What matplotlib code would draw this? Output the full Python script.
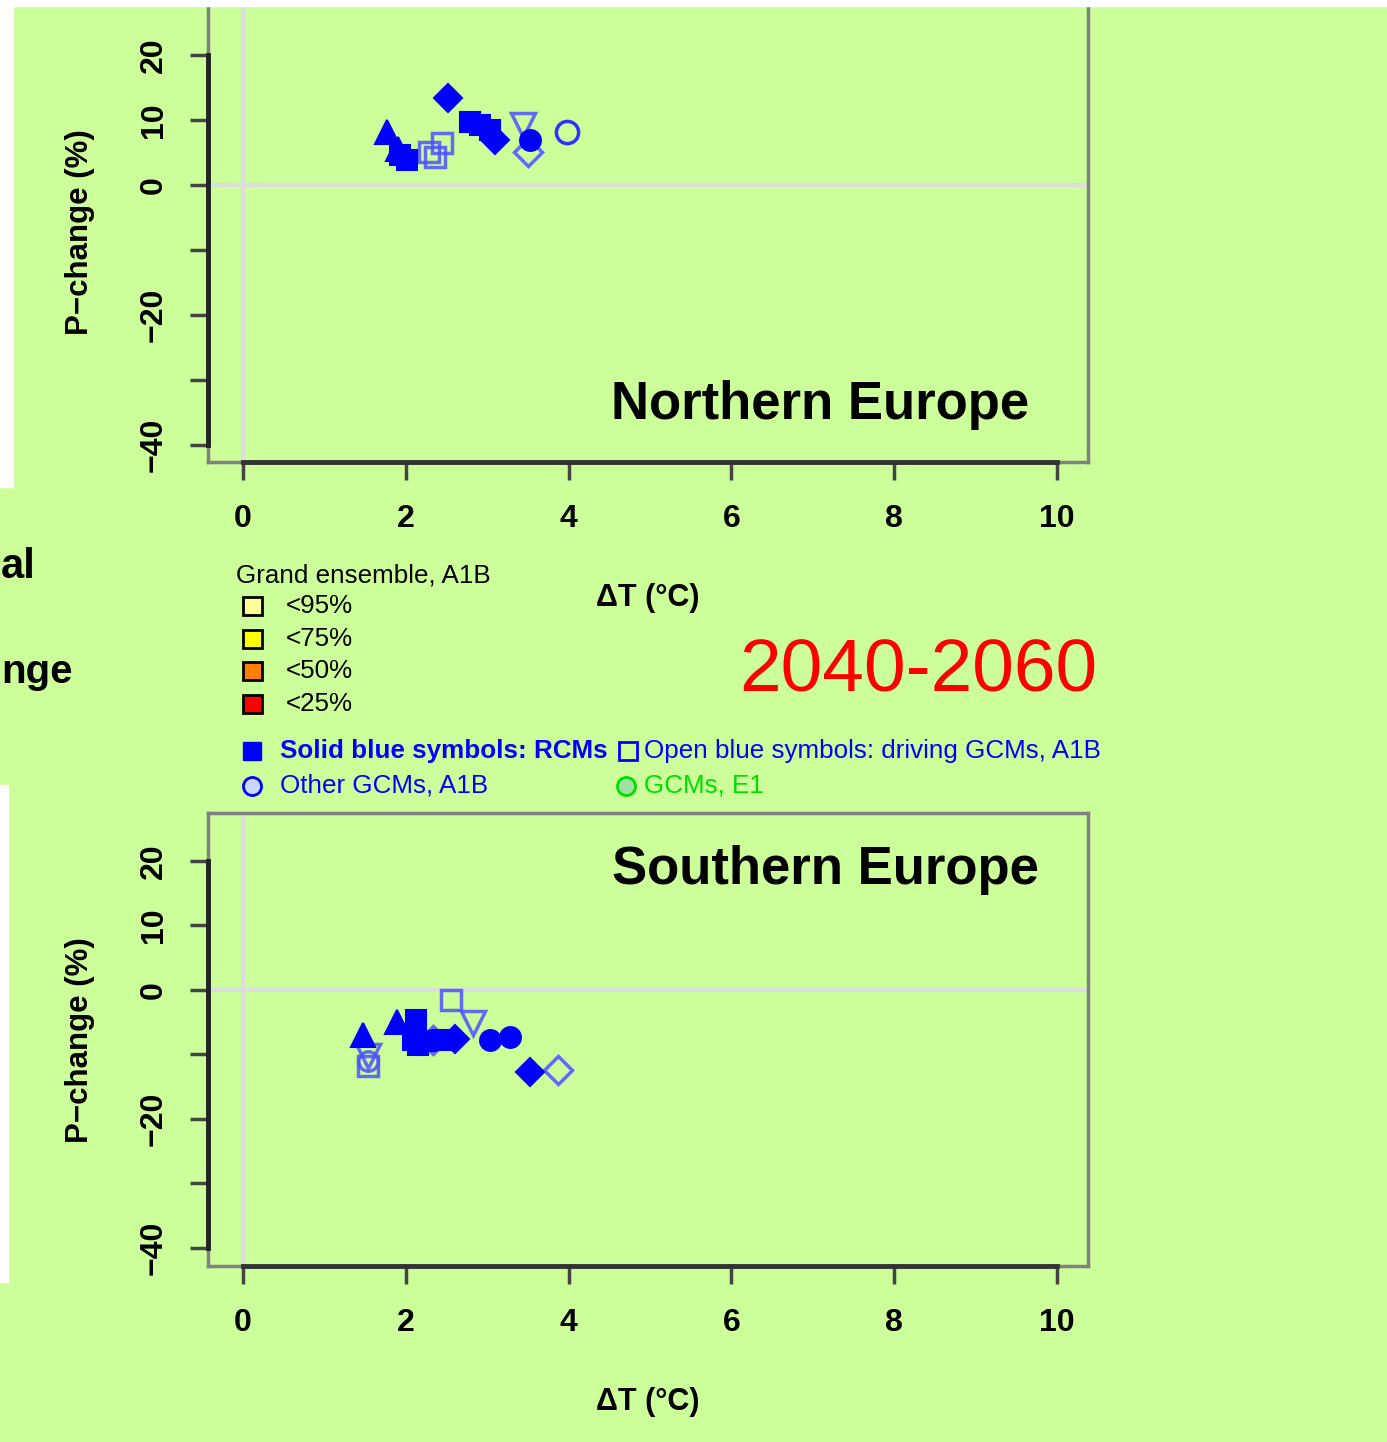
import matplotlib
matplotlib.use("Agg")
import matplotlib.pyplot as plt
from matplotlib.patches import Rectangle

plt.rcParams["font.family"] = ["Liberation Sans", "DejaVu Sans"]

W, H = 1387, 1442
BG = "#ccff99"

# x axis (delta T) and y axis (precipitation change) ticks
x_ticks = [0, 2, 4, 6, 8, 10]
y_ticks = [-40, -30, -20, -10, 0, 10, 20]
y_tick_labels = ["\u221240", "", "\u221220", "", "0", "10", "20"]

# Northern Europe: solid symbols = RCMs
north_rcm_dt = [2.52, 1.77, 1.90, 1.93, 2.02, 2.79, 2.91, 3.03, 3.09, 3.52]
north_rcm_dp = [13.4, 8.2, 5.6, 4.6, 3.8, 9.7, 9.2, 8.5, 6.9, 6.9]
north_rcm_mk = ["D", "^", "^", "s", "s", "s", "s", "s", "D", "o"]
# Northern Europe: open symbols = driving GCMs
north_gcm_dt = [2.29, 2.36, 2.45, 3.44, 3.50]
north_gcm_dp = [5.1, 4.3, 6.5, 9.2, 5.1]
north_gcm_mk = ["s", "s", "s", "v", "D"]
# Northern Europe: other GCMs
north_oth_dt = [3.98]
north_oth_dp = [8.2]

# Southern Europe: solid symbols = RCMs
south_rcm_dt = [1.47, 1.89, 2.13, 2.09, 2.15, 2.25, 2.45, 2.60, 3.03, 3.28, 3.52]
south_rcm_dp = [-7.0, -5.0, -4.7, -7.8, -8.5, -8.0, -7.8, -7.6, -7.8, -7.3, -12.7]
south_rcm_mk = ["^", "^", "s", "s", "s", "s", "s", "D", "o", "o", "D"]
# Southern Europe: open symbols = driving GCMs
south_gcm_dt = [1.53, 1.53, 2.56, 2.82, 2.33, 3.87]
south_gcm_dp = [-10.3, -11.8, -1.6, -5.2, -7.8, -12.4]
south_gcm_mk = ["v", "s", "s", "v", "D", "D"]
# Southern Europe: other GCMs
south_oth_dt = [1.53]
south_oth_dp = [-11.0]

legend_pct = ["<95%", "<75%", "<50%", "<25%"]
legend_pct_colors = ["#ffff99", "#ffff00", "#ff8000", "#ff0000"]

MSIZE = {"s": 15, "D": 14, "^": 17, "v": 17, "o": 15}
LEG_FS = 18.7


def fx(px):
  return px / W


def fy(py):
  return 1 - py / H


def draw_points(ax, xs, ys, marks, filled):
  for m in sorted(set(marks)):
    sx = [x for x, k in zip(xs, marks) if k == m]
    sy = [y for y, k in zip(ys, marks) if k == m]
    if filled:
      ax.plot(sx, sy, ls="none", marker=m, ms=MSIZE[m], mfc="#0000ff",
              mec="#0000ff", mew=1.5, zorder=4)
    else:
      ax.plot(sx, sy, ls="none", marker=m, ms=MSIZE[m], mfc="none",
              mec="#5050ff", mew=2.5, alpha=0.85, zorder=3)


def make_panel(top_px, bot_px, ylim, title, title_x, title_y):
  ax = fig.add_axes([fx(208), fy(bot_px), fx(1088) - fx(208), (bot_px - top_px) / H])
  ax.set_facecolor(BG)
  ax.set_xlim(-0.43, 10.38)
  ax.set_ylim(*ylim)
  for s in ax.spines.values():
    s.set_color("#808080")
    s.set_linewidth(2.5)
  ax.axhline(0, color="#dddddd", lw=3, zorder=1)
  ax.axvline(0, color="#dddddd", lw=3, zorder=1)
  # darker axis lines between first and last tick (R style)
  ax.plot([0, 10], [ylim[0], ylim[0]], color="#333333", lw=3.5, clip_on=False, zorder=5)
  ax.plot([-0.43, -0.43], [-40, 20], color="#222222", lw=3.5, clip_on=False, zorder=5)
  ax.set_xticks(x_ticks)
  ax.set_xticklabels([str(t) for t in x_ticks])
  ax.set_yticks(y_ticks)
  ax.set_yticklabels(y_tick_labels, rotation=90, va="center")
  ax.tick_params(axis="both", length=13, width=2.5, color="#444444",
                 labelsize=23)
  ax.tick_params(axis="x", pad=17)
  ax.tick_params(axis="y", pad=15)
  for lab in ax.get_xticklabels() + ax.get_yticklabels():
    lab.set_fontweight("bold")
  lay.text(title_x, title_y, title, fontsize=38, fontweight="bold", ha="center", va="center")
  return ax


fig = plt.figure(figsize=(W / 100, H / 100), dpi=100, facecolor=BG)
lay = fig.add_axes([0, 0, 1, 1], zorder=10)
lay.set_xlim(0, W)
lay.set_ylim(H, 0)
lay.axis("off")

ax_n = make_panel(4, 462, (-42.6, 27.85), "Northern Europe", 820, 405)
draw_points(ax_n, north_rcm_dt, north_rcm_dp, north_rcm_mk, True)
draw_points(ax_n, north_gcm_dt, north_gcm_dp, north_gcm_mk, False)
ax_n.plot(north_oth_dt, north_oth_dp, ls="none", marker="o", ms=16, mfc="none",
          mec="#3030ff", mew=2.5, zorder=3)

ax_s = make_panel(813, 1266, (-42.8, 27.4), "Southern Europe", 825, 870)
draw_points(ax_s, south_rcm_dt, south_rcm_dp, south_rcm_mk, True)
draw_points(ax_s, south_gcm_dt, south_gcm_dp, south_gcm_mk, False)
ax_s.plot(south_oth_dt, south_oth_dp, ls="none", marker="o", ms=14, mfc="none",
          mec="#5050ff", mew=2.5, alpha=0.85, zorder=3)

# axis labels
for yc, xl in [(232, 598), (1040, 1402)]:
  lay.text(80, yc, "P\u2212change (%)", fontsize=22.5, fontweight="bold", rotation=90,
           ha="center", va="center")
  lay.text(648, xl, "\u0394T (\u00b0C)", fontsize=22, fontweight="bold",
           ha="center", va="center")

# white margins of the cropped slide
lay.add_patch(Rectangle((0, 0), W, 6, color="white", zorder=20))
lay.add_patch(Rectangle((0, 0), 13, 487, color="white", zorder=20))
lay.add_patch(Rectangle((0, 785), 8, 497, color="white", zorder=20))

# cut-off slide text on the left
lay.text(1, 567, "al", fontsize=30, fontweight="bold", ha="left", va="center")
lay.text(1, 672, "nge", fontsize=29, fontweight="bold", ha="left", va="center")

lay.text(918, 672, "2040-2060", fontsize=54, color="#ff0000", ha="center", va="center")

# percentile legend
lay.text(236, 575, "Grand ensemble, A1B", fontsize=LEG_FS, ha="left", va="center")
for i, (lab, col) in enumerate(zip(legend_pct, legend_pct_colors)):
  yc = 606 + i * 32.7
  lay.add_patch(Rectangle((243, yc - 9), 19, 18, facecolor=col, edgecolor="black", lw=2))
  lay.text(286, yc, lab, fontsize=LEG_FS, ha="left", va="center")

# symbol legend
lay.plot([252], [751], marker="s", ms=13, color="#0000ff", ls="none")
lay.text(280, 751, "Solid blue symbols: RCMs", fontsize=LEG_FS, fontweight="bold",
         color="#0000ff", ha="left", va="center")
lay.plot([628], [751], marker="s", ms=13, mfc="none", mec="#0000ff", mew=2, ls="none")
lay.text(644, 751, "Open blue symbols: driving GCMs, A1B", fontsize=LEG_FS,
         color="#0000ff", ha="left", va="center")
lay.plot([252], [786], marker="o", ms=13, mfc="#c8d8ff", mec="#0000ff", mew=2, ls="none")
lay.text(280, 786, "Other GCMs, A1B", fontsize=LEG_FS, color="#0000ff", ha="left", va="center")
lay.plot([626], [786], marker="o", ms=13, mfc="#a0e0a0", mec="#00dd00", mew=2, ls="none")
lay.text(644, 786, "GCMs, E1", fontsize=LEG_FS, color="#00dd00", ha="left", va="center")

fig.savefig("out.png", dpi=100, facecolor=BG)
